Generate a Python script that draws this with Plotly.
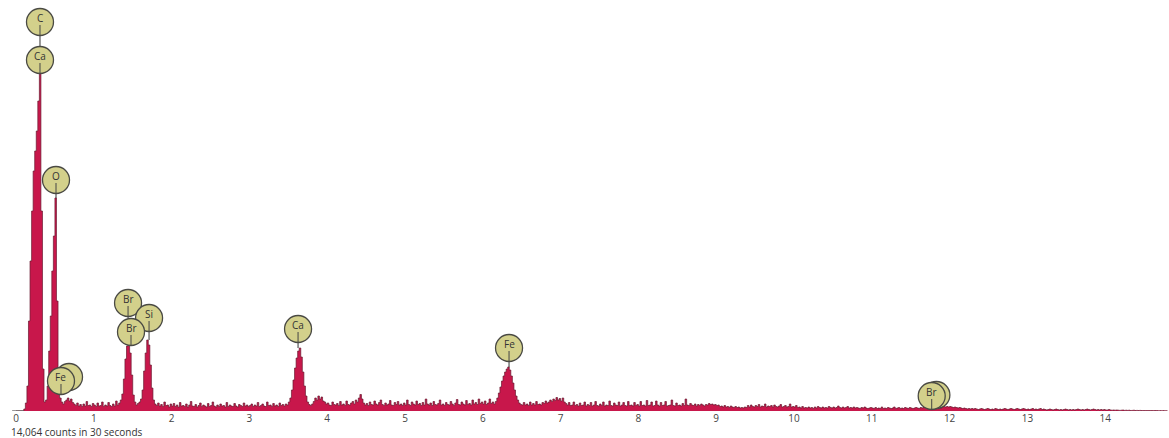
import plotly.graph_objects as go

# ---- spectrum data (counts per 0.02 keV channel, starting at 0.00 keV) ----
CHANNEL_START_KEV = 0.0
CHANNEL_WIDTH_KEV = 0.02

counts_0 = [0, 0, 0, 0, 0, 20, 80, 250, 900, 1500, 2000, 2400, 2600, 2800, 3100, 3410, 2000, 420, 90, 110,
            250, 600, 950, 1400, 1750, 2130, 1100, 260, 130, 90, 70, 95, 110, 130, 100, 120, 85, 70, 55, 80,
            50, 65, 45, 70, 50, 95, 55, 60, 45, 75]
counts_1 = [60, 45, 80, 50, 55, 90, 45, 60, 50, 85, 55, 45, 70, 50, 100, 60, 80, 110, 170, 320,
            520, 650, 680, 580, 360, 160, 90, 60, 75, 90, 120, 210, 400, 580, 710, 660, 460, 230, 110, 70,
            55, 80, 50, 65, 45, 90, 55, 60, 40, 70]
counts_2 = [50, 75, 45, 60, 40, 85, 50, 55, 45, 70, 40, 60, 95, 50, 45, 65, 40, 55, 80, 45,
            60, 50, 40, 75, 45, 55, 90, 50, 40, 60, 45, 70, 50, 55, 40, 85, 45, 60, 50, 45,
            75, 50, 40, 65, 55, 45, 80, 50, 60, 45]
counts_3 = [55, 70, 45, 60, 50, 85, 45, 55, 70, 50, 45, 90, 55, 60, 45, 75, 50, 60, 45, 80,
            55, 65, 50, 70, 60, 90, 130, 210, 310, 430, 530, 600, 630, 540, 390, 250, 150, 90, 65, 55,
            70, 95, 130, 110, 150, 120, 140, 100, 90, 70]
counts_4 = [80, 60, 55, 90, 65, 60, 75, 55, 95, 60, 70, 55, 100, 65, 60, 80, 95, 70, 110, 90,
            130, 165, 120, 80, 60, 75, 55, 90, 65, 60, 100, 70, 60, 85, 110, 65, 55, 80, 60, 70,
            105, 60, 55, 85, 65, 95, 60, 70, 55, 80]
counts_5 = [60, 110, 65, 55, 90, 70, 60, 100, 65, 75, 55, 85, 60, 120, 70, 60, 80, 55, 95, 65,
            60, 75, 110, 60, 70, 55, 85, 65, 60, 95, 70, 55, 80, 115, 65, 60, 90, 70, 60, 105,
            65, 75, 60, 110, 70, 85, 65, 120, 75, 90]
counts_6 = [70, 100, 65, 80, 120, 75, 90, 70, 95, 130, 180, 240, 300, 350, 390, 420, 440, 410, 350, 280,
            210, 150, 110, 80, 65, 60, 85, 60, 70, 55, 90, 60, 75, 60, 95, 65, 70, 60, 85, 75,
            100, 80, 90, 110, 95, 120, 105, 135, 110, 125]
counts_7 = [100, 130, 90, 75, 60, 85, 55, 60, 90, 55, 65, 50, 80, 55, 60, 90, 50, 65, 55, 85,
            50, 60, 95, 55, 50, 70, 55, 90, 50, 60, 55, 100, 55, 50, 80, 60, 55, 90, 50, 60,
            85, 55, 50, 95, 55, 60, 50, 85, 55, 65]
counts_8 = [50, 95, 55, 60, 50, 105, 55, 60, 90, 50, 55, 100, 60, 50, 85, 55, 60, 95, 50, 55,
            60, 110, 55, 50, 80, 55, 60, 50, 75, 55, 120, 60, 55, 75, 60, 55, 70, 50, 65, 55,
            70, 60, 50, 65, 60, 75, 65, 70, 60, 65]
counts_9 = [55, 60, 45, 50, 40, 55, 40, 45, 35, 50, 40, 35, 45, 35, 40, 30, 35, 30, 40, 35,
            55, 40, 60, 45, 40, 55, 45, 65, 40, 50, 45, 70, 40, 50, 45, 55, 40, 60, 45, 40,
            50, 65, 40, 45, 55, 40, 45, 70, 40, 45]
counts_10 = [40, 55, 35, 40, 30, 45, 30, 35, 30, 40, 30, 35, 25, 40, 30, 45, 35, 30, 40, 30,
             35, 30, 45, 35, 30, 40, 30, 35, 50, 35, 30, 40, 30, 35, 45, 30, 35, 30, 40, 30,
             35, 30, 25, 35, 30, 40, 30, 25, 30, 35]
counts_11 = [30, 25, 35, 25, 30, 25, 40, 25, 30, 25, 35, 30, 25, 30, 40, 25, 30, 35, 25, 30,
             25, 35, 30, 25, 35, 30, 25, 30, 35, 30, 25, 35, 30, 40, 35, 30, 40, 35, 30, 35,
             30, 25, 30, 35, 30, 40, 45, 40, 45, 40]
counts_12 = [45, 40, 35, 40, 35, 30, 35, 30, 25, 30, 25, 20, 25, 20, 25, 20, 25, 20, 15, 20,
             25, 20, 15, 20, 25, 20, 15, 20, 15, 25, 20, 15, 20, 15, 20, 25, 20, 15, 20, 25,
             20, 15, 20, 25, 20, 15, 20, 25, 20, 15]
counts_13 = [20, 15, 20, 25, 15, 20, 15, 20, 25, 15, 20, 15, 10, 15, 20, 15, 10, 15, 20, 15,
             10, 15, 10, 15, 20, 15, 10, 15, 10, 15, 10, 15, 20, 15, 10, 15, 10, 15, 20, 15,
             10, 15, 20, 15, 10, 15, 10, 15, 10, 15]
counts_14 = [10, 10, 15, 10, 8, 10, 8, 10, 8, 6, 8, 10, 6, 8, 6, 8, 5, 6, 8, 5,
             6, 5, 6, 5, 4, 5, 4, 5, 4, 5, 4, 4, 5, 4, 3, 4, 3, 4, 3, 3, 3]

spectrum = (counts_0 + counts_1 + counts_2 + counts_3 + counts_4 + counts_5 + counts_6 + counts_7
            + counts_8 + counts_9 + counts_10 + counts_11 + counts_12 + counts_13 + counts_14)

# ---- element markers ----
marker_text = ["C", "Ca", "O", "", "Fe", "Br", "Si", "Br", "Ca", "Fe", "", "Br"]
marker_kev = [0.308, 0.308, 0.514, 0.681, 0.578, 1.44, 1.71, 1.478, 3.625, 6.337, 11.83, 11.77]
marker_y = [3890, 3510, 2310, 340, 300, 1080, 930, 790, 820, 630, 160, 150]
marker_line_to = [3645, 3410, 2130, 340, 160, 925, 710, 680, 630, 440, 160, 60]

tick_values = list(range(0, 15))
tick_labels = [str(v) for v in tick_values]
footer_text = "14,064 counts in 30 seconds"

FILL = "#C8174B"
EDGE = "#6a1a30"
BADGE = "#D3D08B"
BADGE_EDGE = "#4a4a44"

fig = go.Figure()
fig.add_trace(go.Scatter(
    x0=CHANNEL_START_KEV, dx=CHANNEL_WIDTH_KEV, y=spectrum,
    mode="lines", line=dict(color=EDGE, width=0.7, shape="hv"),
    fill="tozeroy", fillcolor=FILL, hoverinfo="skip", showlegend=False,
))
# baseline stub to the left of 0
fig.add_trace(go.Scatter(x=[-0.05, 0.1], y=[0, 0], mode="lines",
                         line=dict(color="#333333", width=1), showlegend=False, hoverinfo="skip"))

shapes = []
annotations = []
for txt, e, yc, yto in zip(marker_text, marker_kev, marker_y, marker_line_to):
    shapes.append(dict(type="line", xref="x", yref="y", x0=e, x1=e, y0=yc, y1=yto,
                       line=dict(color="#333333", width=1), layer="above"))
    shapes.append(dict(type="circle", xref="x", yref="y", xsizemode="pixel", ysizemode="pixel",
                       xanchor=e, yanchor=yc, x0=-13.5, x1=13.5, y0=-13.5, y1=13.5,
                       fillcolor=BADGE, line=dict(color=BADGE_EDGE, width=1.3), layer="above"))
    shapes.append(dict(type="line", xref="x", yref="y", xsizemode="pixel", ysizemode="pixel",
                       xanchor=e, yanchor=yc, x0=0, x1=0, y0=-3, y1=-13,
                       line=dict(color="#444444", width=1), layer="above"))
    if txt:
        annotations.append(dict(x=e, y=yc, xref="x", yref="y", text=txt, showarrow=False,
                                yshift=4, font=dict(family="Open Sans", size=10, color="#333333")))

annotations.append(dict(x=0, y=0, xref="paper", yref="paper", xanchor="left", yanchor="top",
                        xshift=9, yshift=-12, text=footer_text, showarrow=False,
                        font=dict(family="Open Sans", size=10, color="#333333")))

fig.update_layout(
    width=1169, height=438,
    margin=dict(l=0, r=0, t=0, b=27),
    paper_bgcolor="white", plot_bgcolor="white",
    shapes=shapes, annotations=annotations,
    xaxis=dict(range=[-0.206, 14.82], showgrid=False, zeroline=False, showline=False,
               tickvals=tick_values, ticktext=tick_labels, ticks="",
               tickfont=dict(family="Open Sans", size=10, color="#444444")),
    yaxis=dict(range=[0, 4110], visible=False, showgrid=False, zeroline=False),
)

fig.write_html("out.html")
